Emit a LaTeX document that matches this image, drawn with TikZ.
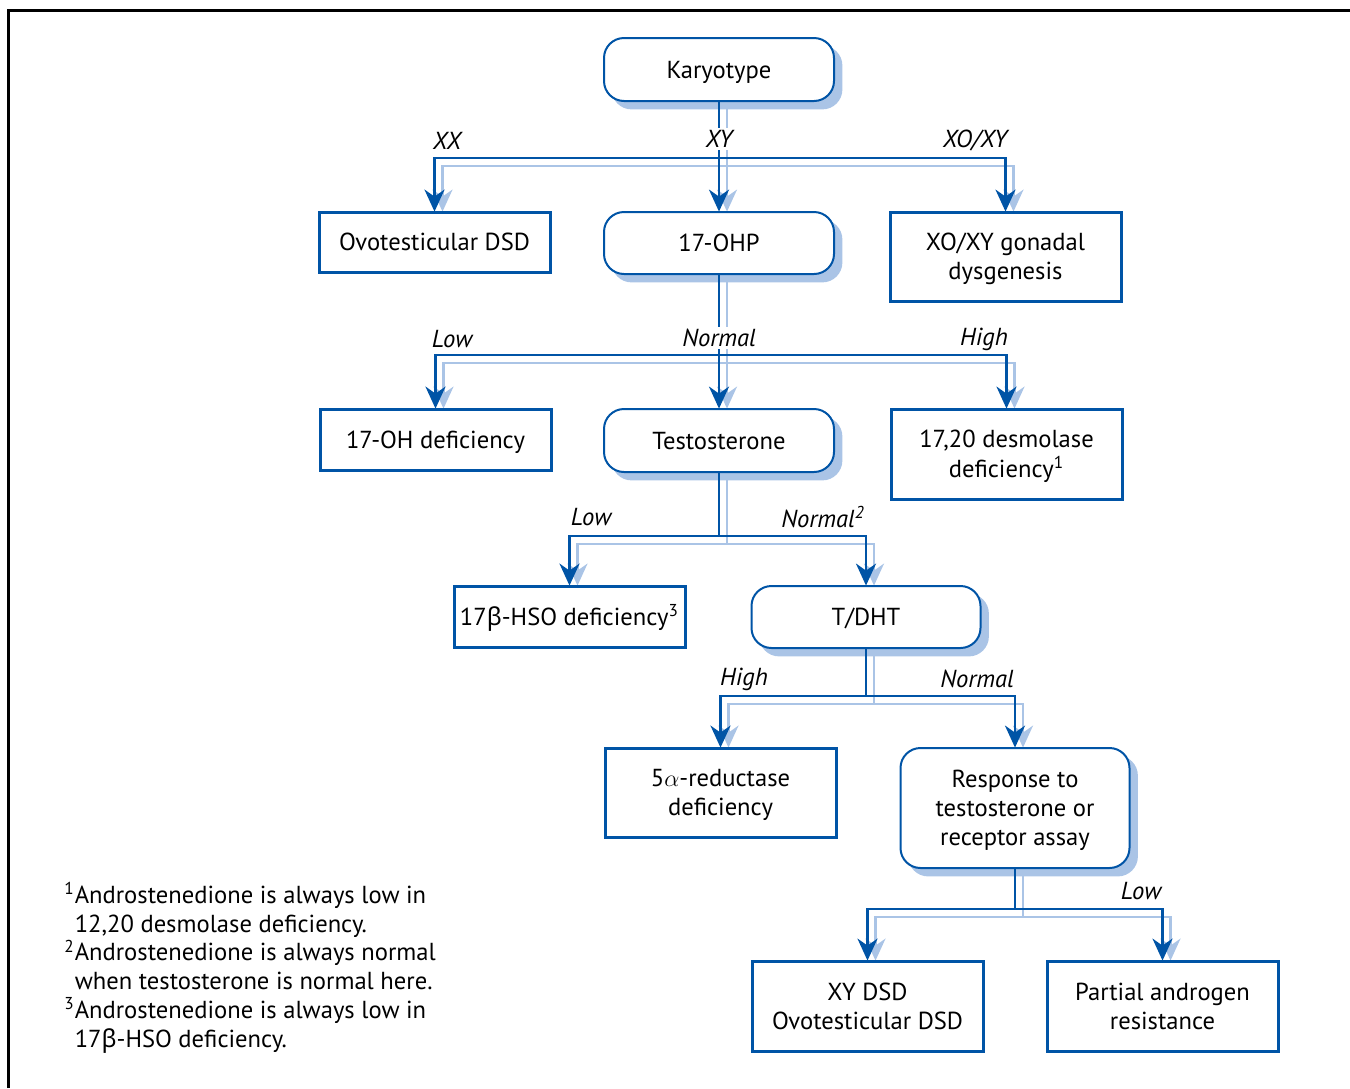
\documentclass[tikz,border=0pt]{standalone}
\usepackage{fontspec}
\setmainfont{PT Sans}
\newfontfamily\grk{Noto Sans}
\usetikzlibrary{arrows.meta}
\definecolor{dkblue}{RGB}{0,84,166}
\definecolor{ltblue}{RGB}{170,196,230}
% centred box text, drawn a little lower than its reported box
\newcommand\boxtxt[1]{\raisebox{-1.5pt}[\height][\depth]{\begin{tabular}{@{}c@{}}#1\end{tabular}}}
\begin{document}
\begin{tikzpicture}[x=0.5pt,y=-0.5pt,
  font=\fontsize{12.3}{14.4}\selectfont,
  dk/.style={draw=dkblue,line width=1.4pt,-{Stealth[length=11pt,width=10pt,inset=3.5pt,fill=dkblue]}},
  dkl/.style={draw=dkblue,line width=1.4pt},
  lt/.style={draw=ltblue,line width=1.2pt,-{Stealth[length=11pt,width=10pt,inset=3.5pt,fill=ltblue]}},
  ltl/.style={draw=ltblue,line width=1.2pt},
  sqbox/.style={inner sep=0pt,draw=dkblue,line width=1.5pt,fill=white},
  rbox/.style={inner sep=0pt,draw=dkblue,line width=1pt,fill=white,rounded corners=10pt},
  rshadow/.style={fill=ltblue,rounded corners=10pt},
  lbl/.style={font=\fontsize{12.3}{14.4}\selectfont\itshape,inner sep=1pt,fill=white}]
\useasboundingbox (0,0) rectangle (1350,1088);
% frame
\draw[line width=1.5pt] (8.5,1088) -- (8.5,10.5) -- (1350,10.5);

% node geometry (placeholders used for anchors)
\path
  (719,69.5)  node[minimum width=115pt,minimum height=31.5pt] (kar) {}
  (434.5,242) node[minimum width=115.5pt,minimum height=30pt] (ovo) {}
  (719,243)   node[minimum width=115pt,minimum height=31pt] (ohp) {}
  (1005.5,256.5) node[minimum width=115.5pt,minimum height=44.5pt] (xoxy) {}
  (435.5,439.5) node[minimum width=115.5pt,minimum height=30.5pt] (ohd) {}
  (719,440.5) node[minimum width=115pt,minimum height=31.5pt] (tes) {}
  (1006.5,454) node[minimum width=115.5pt,minimum height=45pt] (des) {}
  (569.5,616.5) node[minimum width=115.5pt,minimum height=30.5pt] (hso) {}
  (866,617) node[minimum width=114.5pt,minimum height=31pt] (tdht) {}
  (720.5,792.5) node[minimum width=115.5pt,minimum height=44.5pt] (red) {}
  (1015,808) node[minimum width=114.5pt,minimum height=60pt] (resp) {}
  (867.5,1006) node[minimum width=115.5pt,minimum height=45pt] (xyd) {}
  (1162.5,1006) node[minimum width=115.5pt,minimum height=45pt] (par) {};

% branch points below each decision box
\coordinate (b1) at (kar.south |- 0,158);
\coordinate (b2) at (ohp.south |- 0,355);
\coordinate (b3) at (tes.south |- 0,536);
\coordinate (b4) at (tdht.south |- 0,696);
\coordinate (b5) at (resp.south |- 0,909);

% shadows of rounded boxes
\foreach \n in {kar,ohp,tes,tdht,resp}
  \fill[rshadow] ([shift={(4pt,-4pt)}]\n.south west) rectangle ([shift={(4pt,-4pt)}]\n.north east);

% shadow connectors
\draw[ltl] ([xshift=4pt]kar.south) -- ([shift={(4pt,-4pt)}]b1);
\draw[lt] ([shift={(4pt,-4pt)}]b1) -| ([xshift=4pt]ovo.north);
\draw[lt] ([shift={(4pt,-4pt)}]b1) -- ([xshift=4pt]ohp.north);
\draw[lt] ([shift={(4pt,-4pt)}]b1) -| ([xshift=4pt]xoxy.north);
\draw[ltl] ([xshift=4pt]ohp.south) -- ([shift={(4pt,-4pt)}]b2);
\draw[lt] ([shift={(4pt,-4pt)}]b2) -| ([xshift=4pt]ohd.north);
\draw[lt] ([shift={(4pt,-4pt)}]b2) -- ([xshift=4pt]tes.north);
\draw[lt] ([shift={(4pt,-4pt)}]b2) -| ([xshift=4pt]des.north);
\draw[ltl] ([xshift=4pt]tes.south) -- ([shift={(4pt,-4pt)}]b3);
\draw[lt] ([shift={(4pt,-4pt)}]b3) -| ([xshift=4pt]hso.north);
\draw[lt] ([shift={(4pt,-4pt)}]b3) -| ([xshift=4pt]tdht.north);
\draw[ltl] ([xshift=4pt]tdht.south) -- ([shift={(4pt,-4pt)}]b4);
\draw[lt] ([shift={(4pt,-4pt)}]b4) -| ([xshift=4pt]red.north);
\draw[lt] ([shift={(4pt,-4pt)}]b4) -| ([xshift=4pt]resp.north);
\draw[ltl] ([xshift=4pt]resp.south) -- ([shift={(4pt,-4pt)}]b5);
\draw[lt] ([shift={(4pt,-4pt)}]b5) -| ([xshift=4pt]xyd.north);
\draw[lt] ([shift={(4pt,-4pt)}]b5) -| ([xshift=4pt]par.north);

% main connectors
\draw[dkl] (kar.south) -- (b1);
\draw[dk] (b1) -| (ovo.north);
\draw[dk] (b1) -- (ohp.north);
\draw[dk] (b1) -| (xoxy.north);
\draw[dkl] (ohp.south) -- (b2);
\draw[dk] (b2) -| (ohd.north);
\draw[dk] (b2) -- (tes.north);
\draw[dk] (b2) -| (des.north);
\draw[dkl] (tes.south) -- (b3);
\draw[dk] (b3) -| (hso.north);
\draw[dk] (b3) -| (tdht.north);
\draw[dkl] (tdht.south) -- (b4);
\draw[dk] (b4) -| (red.north);
\draw[dk] (b4) -| (resp.north);
\draw[dkl] (resp.south) -- (b5);
\draw[dk] (b5) -| (xyd.north);
\draw[dk] (b5) -| (par.north);

% boxes
\node[rbox,minimum width=115pt,minimum height=31.5pt] (karT) at (kar) {\boxtxt{Karyotype}};
\node[sqbox,minimum width=115.5pt,minimum height=30pt] (ovoT) at (ovo) {\boxtxt{Ovotesticular DSD}};
\node[rbox,minimum width=115pt,minimum height=31pt] (ohpT) at (ohp) {\boxtxt{17-OHP}};
\node[sqbox,minimum width=115.5pt,minimum height=44.5pt] (xoxyT) at (xoxy) {\boxtxt{XO/XY gonadal\\dysgenesis}};
\node[sqbox,minimum width=115.5pt,minimum height=30.5pt] (ohdT) at (ohd) {\boxtxt{17-OH deficiency}};
\node[rbox,minimum width=115pt,minimum height=31.5pt] (tesT) at (tes) {\boxtxt{Testosterone}};
\node[sqbox,minimum width=115.5pt,minimum height=45pt] (desT) at (des) {\boxtxt{17,20 desmolase\\deficiency\textsuperscript{1}}};
\node[sqbox,minimum width=115.5pt,minimum height=30.5pt] (hsoT) at (hso) {\boxtxt{17{\grk β}-HSO deficiency\textsuperscript{3}}};
\node[rbox,minimum width=114.5pt,minimum height=31pt] (tdhtT) at (tdht) {\boxtxt{T/DHT}};
\node[sqbox,minimum width=115.5pt,minimum height=44.5pt] (redT) at (red) {\boxtxt{5$\alpha$-reductase\\deficiency}};
\node[rbox,minimum width=114.5pt,minimum height=60pt] (respT) at (resp) {\boxtxt{Response to\\testosterone or\\receptor assay}};
\node[sqbox,minimum width=115.5pt,minimum height=45pt] (xydT) at (xyd) {\boxtxt{XY DSD\\Ovotesticular DSD}};
\node[sqbox,minimum width=115.5pt,minimum height=45pt] (parT) at (par) {\boxtxt{Partial androgen\\resistance}};

% branch labels
\node[lbl] (lxx) at (447,141) {XX};
\node[lbl] (lxy) at (719,139) {XY};
\node[lbl] (lxo) at (975,141) {XO/XY};
\node[lbl] (llo1) at (452,339) {Low};
\node[lbl] (lno1) at (719,338) {Normal};
\node[lbl] (lhi1) at (984,339) {High};
\node[lbl] (llo2) at (591,517) {Low};
\node[lbl] (lno2) at (823,517) {Normal\textsuperscript{2}};
\node[lbl] (lhi2) at (744,679) {High};
\node[lbl] (lno3) at (977,679) {Normal};
\node[lbl] (llo3) at (1141,891) {Low};

% footnotes
\node[anchor=north west,align=left,inner sep=0pt,font=\fontsize{12.3}{14.4}\selectfont] (notes) at (64,882)
  {\textsuperscript{1}Androstenedione is always low in\\
   \hphantom{\textsuperscript{1}}12,20 desmolase deficiency.\\
   \textsuperscript{2}Androstenedione is always normal\\
   \hphantom{\textsuperscript{2}}when testosterone is normal here.\\
   \textsuperscript{3}Androstenedione is always low in\\
   \hphantom{\textsuperscript{3}}17{\grk β}-HSO deficiency.};
\end{tikzpicture}
\end{document}
